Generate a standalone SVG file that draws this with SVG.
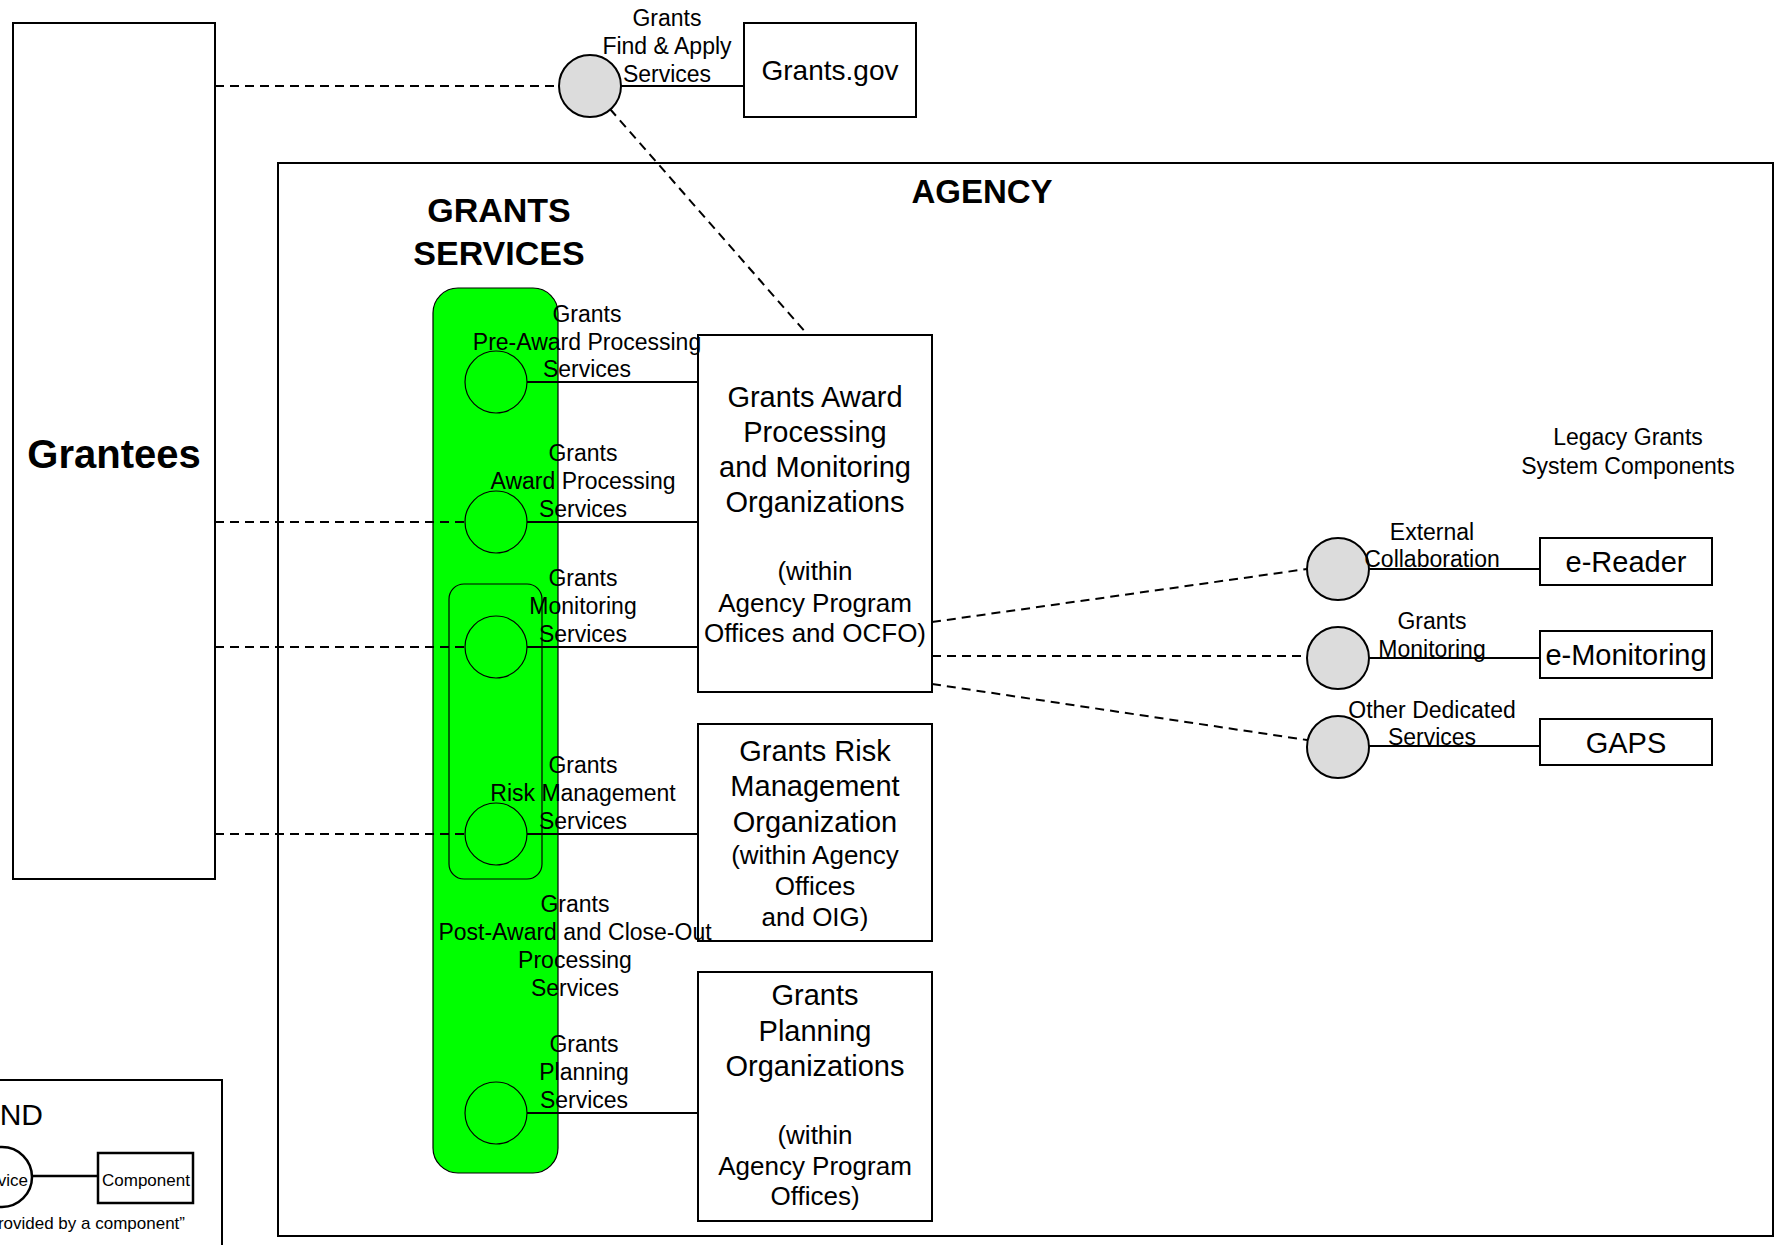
<svg xmlns="http://www.w3.org/2000/svg" width="1779" height="1245" viewBox="0 0 1779 1245">
<style>
text{font-family:"Liberation Sans",Arial,sans-serif;fill:#000}
.box{fill:#fff;stroke:#000;stroke-width:2}
.lbl{font-size:23px;text-anchor:middle}
.org{font-size:29px;text-anchor:middle}
.sub{font-size:26px;text-anchor:middle}
.gc{fill:none;stroke:#000;stroke-width:1.2}
.gray{fill:#dcdcdc;stroke:#000;stroke-width:2}
.solid{stroke:#000;stroke-width:2;fill:none}
.dash{stroke:#000;stroke-width:2;fill:none;stroke-dasharray:9 6}
</style>
<rect width="1779" height="1245" fill="#fff"/>

<g id="agency">
<rect x="278" y="163" width="1495" height="1073" fill="#fff" stroke="#000" stroke-width="2"/>
<text x="982" y="203" font-size="33" font-weight="bold" text-anchor="middle">AGENCY</text>
</g>

<g id="grantees">
<rect class="box" x="13" y="23" width="202" height="856"/>
<text x="114" y="468" font-size="40" font-weight="bold" text-anchor="middle">Grantees</text>
</g>

<g id="grants-gov">
<rect class="box" x="744" y="23" width="172" height="94"/>
<text x="830" y="80" font-size="28" text-anchor="middle">Grants.gov</text>
</g>

<g id="grants-services">
<text x="499" y="222" font-size="34" font-weight="bold" text-anchor="middle">GRANTS</text>
<text x="499" y="265" font-size="34" font-weight="bold" text-anchor="middle">SERVICES</text>
<rect x="433" y="288" width="125" height="885" rx="25" fill="#00ff00" stroke="#000" stroke-width="1.2"/>
<rect x="449" y="584" width="93" height="295" rx="15" fill="none" stroke="#000" stroke-width="1.2"/>
</g>

<g id="org-award">
<rect class="box" x="698" y="335" width="234" height="357"/>
<text class="org" x="815" y="407">Grants Award</text>
<text class="org" x="815" y="442">Processing</text>
<text class="org" x="815" y="477">and Monitoring</text>
<text class="org" x="815" y="512">Organizations</text>
<text class="sub" x="815" y="580">(within</text>
<text class="sub" x="815" y="612">Agency Program</text>
<text class="sub" x="815" y="642">Offices and OCFO)</text>
</g>

<g id="org-risk">
<rect class="box" x="698" y="724" width="234" height="217"/>
<text class="org" x="815" y="761">Grants Risk</text>
<text class="org" x="815" y="796">Management</text>
<text class="org" x="815" y="832">Organization</text>
<text class="sub" x="815" y="864">(within Agency</text>
<text class="sub" x="815" y="895">Offices</text>
<text class="sub" x="815" y="926">and OIG)</text>
</g>

<g id="org-planning">
<rect class="box" x="698" y="972" width="234" height="249"/>
<text class="org" x="815" y="1005">Grants</text>
<text class="org" x="815" y="1041">Planning</text>
<text class="org" x="815" y="1076">Organizations</text>
<text class="sub" x="815" y="1144">(within</text>
<text class="sub" x="815" y="1175">Agency Program</text>
<text class="sub" x="815" y="1205">Offices)</text>
</g>

<g id="e-reader">
<rect class="box" x="1540" y="538" width="172" height="47"/>
<text class="org" x="1626" y="572">e-Reader</text>
</g>

<g id="e-monitoring">
<rect class="box" x="1540" y="631" width="172" height="47"/>
<text class="org" x="1626" y="665">e-Monitoring</text>
</g>

<g id="gaps">
<rect class="box" x="1540" y="719" width="172" height="46"/>
<text class="org" x="1626" y="753">GAPS</text>
</g>

<g id="connectors">
<line class="dash" x1="215" y1="86" x2="559" y2="86"/>
<line class="solid" x1="621" y1="86" x2="744" y2="86"/>
<line class="dash" x1="610" y1="109" x2="807" y2="334"/>
<line class="dash" x1="215" y1="522" x2="465" y2="522"/>
<line class="dash" x1="215" y1="647" x2="465" y2="647"/>
<line class="dash" x1="215" y1="834" x2="465" y2="834"/>
<line class="solid" x1="527" y1="382" x2="698" y2="382"/>
<line class="solid" x1="527" y1="522" x2="698" y2="522"/>
<line class="solid" x1="527" y1="647" x2="698" y2="647"/>
<line class="solid" x1="527" y1="834" x2="698" y2="834"/>
<line class="solid" x1="527" y1="1113" x2="698" y2="1113"/>
<line class="dash" x1="932" y1="622" x2="1307" y2="569"/>
<line class="dash" x1="932" y1="656" x2="1307" y2="656"/>
<line class="dash" x1="932" y1="684" x2="1307" y2="740"/>
<line class="solid" x1="1369" y1="569" x2="1540" y2="569"/>
<line class="solid" x1="1369" y1="658" x2="1540" y2="658"/>
<line class="solid" x1="1369" y1="746" x2="1540" y2="746"/>
</g>

<g id="svc-find-apply">
<circle class="gray" cx="590" cy="86" r="31"/>
<text class="lbl" x="667" y="26">Grants</text>
<text class="lbl" x="667" y="54">Find &amp; Apply</text>
<text class="lbl" x="667" y="82">Services</text>
</g>

<g id="svc-pre-award">
<circle class="gc" cx="496" cy="382" r="31"/>
<text class="lbl" x="587" y="322">Grants</text>
<text class="lbl" x="587" y="350">Pre-Award Processing</text>
<text class="lbl" x="587" y="377">Services</text>
</g>

<g id="svc-award">
<circle class="gc" cx="496" cy="522" r="31"/>
<text class="lbl" x="583" y="461">Grants</text>
<text class="lbl" x="583" y="489">Award Processing</text>
<text class="lbl" x="583" y="517">Services</text>
</g>

<g id="svc-monitoring">
<circle class="gc" cx="496" cy="647" r="31"/>
<text class="lbl" x="583" y="586">Grants</text>
<text class="lbl" x="583" y="614">Monitoring</text>
<text class="lbl" x="583" y="642">Services</text>
</g>

<g id="svc-risk">
<circle class="gc" cx="496" cy="834" r="31"/>
<text class="lbl" x="583" y="773">Grants</text>
<text class="lbl" x="583" y="801">Risk Management</text>
<text class="lbl" x="583" y="829">Services</text>
</g>

<g id="svc-post-award">
<text class="lbl" x="575" y="912">Grants</text>
<text class="lbl" x="575" y="940">Post-Award and Close-Out</text>
<text class="lbl" x="575" y="968">Processing</text>
<text class="lbl" x="575" y="996">Services</text>
</g>

<g id="svc-planning">
<circle class="gc" cx="496" cy="1113" r="31"/>
<text class="lbl" x="584" y="1052">Grants</text>
<text class="lbl" x="584" y="1080">Planning</text>
<text class="lbl" x="584" y="1108">Services</text>
</g>

<g id="legacy-label">
<text class="lbl" x="1628" y="445">Legacy Grants</text>
<text class="lbl" x="1628" y="474">System Components</text>
</g>

<g id="svc-external">
<circle class="gray" cx="1338" cy="569" r="31"/>
<text class="lbl" x="1432" y="540">External</text>
<text class="lbl" x="1432" y="567">Collaboration</text>
</g>

<g id="svc-grants-monitoring">
<circle class="gray" cx="1338" cy="658" r="31"/>
<text class="lbl" x="1432" y="629">Grants</text>
<text class="lbl" x="1432" y="657">Monitoring</text>
</g>

<g id="svc-other">
<circle class="gray" cx="1338" cy="747" r="31"/>
<text class="lbl" x="1432" y="718">Other Dedicated</text>
<text class="lbl" x="1432" y="745">Services</text>
</g>

<g id="legend">
<rect x="-60" y="1080" width="282" height="220" fill="#fff" stroke="#000" stroke-width="2"/>
<text x="43" y="1125" font-size="30" text-anchor="end">LEGEND</text>
<line x1="32" y1="1176" x2="98" y2="1176" stroke="#000" stroke-width="2.5"/>
<circle cx="2" cy="1177" r="30" fill="#fff" stroke="#000" stroke-width="2.5"/>
<text x="28" y="1186" font-size="17" text-anchor="end">Service</text>
<rect x="98" y="1153" width="95" height="50" fill="#fff" stroke="#000" stroke-width="2.5"/>
<text x="102" y="1186" font-size="17">Component</text>
<text x="185" y="1229" font-size="17" text-anchor="end">“Service provided by a component”</text>
</g>
</svg>
